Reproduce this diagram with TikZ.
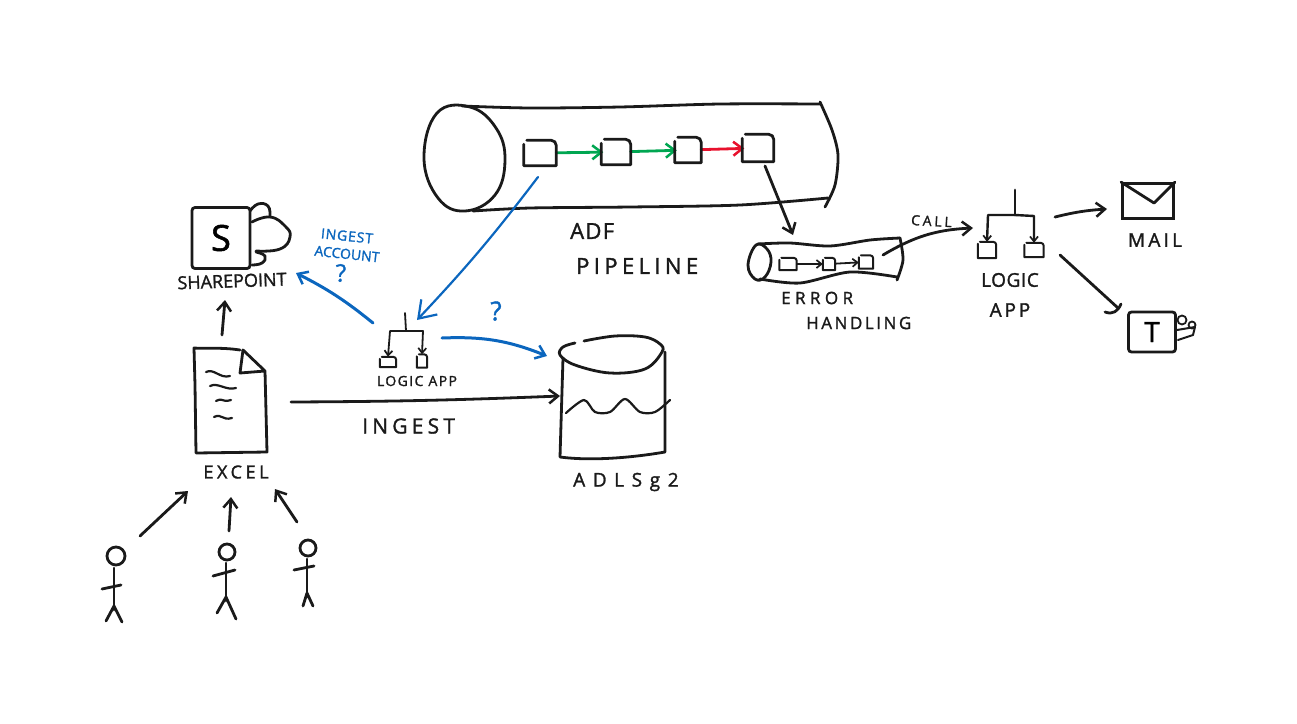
\documentclass[tikz,border=0pt]{standalone}
\usepackage{fontspec}
\setmainfont[FakeBold=1.5]{Open Sans}
\usepackage{xcolor}
\definecolor{ink}{HTML}{1A1A1A}
\definecolor{inkblue}{HTML}{0B66BE}
\definecolor{inkgreen}{HTML}{00A651}
\definecolor{inkred}{HTML}{E8112D}
\usetikzlibrary{arrows.meta,positioning}

\begin{document}
\begin{tikzpicture}[x=1pt,y=-1pt,
  sketch/.style={ink, line width=2.8pt, line cap=round, line join=round},
  arr/.style={sketch, -{Straight Barb[length=9pt,width=14pt,line width=2.5pt]}},
  smallarr/.style={sketch, line width=1.8pt, -{Straight Barb[length=5pt,width=8pt,line width=1.7pt]}},
  bluearr/.style={arr, inkblue},
  stepbox/.style={inner sep=0pt},
  iconbox/.style={draw=ink, line width=2.8pt, rounded corners=3pt, inner sep=0pt, font=\fontsize{36}{36}\selectfont},
  lab/.style 2 args={ink, inner sep=0pt, font=\fontsize{#1}{#1}\selectfont\addfontfeature{LetterSpace=#2}},
  bluelab/.style 2 args={lab={#1}{#2}, text=inkblue}
]
  \useasboundingbox (0,0) rectangle (1297,723);

  % adf pipeline
  \draw[sketch] plot[smooth cycle,tension=.7] coordinates {(437,113) (470,107) (496,128) (505,160) (495,195) (465,211) (438,198) (424,158)};
  \draw[sketch] plot[smooth,tension=.5] coordinates {(462,106) (530,108) (620,107) (720,104) (820,104)};
  \draw[sketch] plot[smooth,tension=.5] coordinates {(820,102) (832,130) (838,155) (835,185) (825,207)};
  \draw[sketch] plot[smooth,tension=.5] coordinates {(473,211) (530,208) (630,207) (740,205) (828,198)};
  \node[stepbox, minimum width=32pt, minimum height=25pt] (step1) at (540,153) {};
  \node[stepbox, minimum width=29pt, minimum height=25pt] (step2) at (616,152) {};
  \node[stepbox, minimum width=26pt, minimum height=25pt] (step3) at (688,150) {};
  \node[stepbox, minimum width=31pt, minimum height=27pt] (step4) at (758,148) {};
  \draw[arr, inkgreen, shorten >=-2pt] (step1) -- (step2);
  \draw[arr, inkgreen, shorten >=-2pt] (step2) -- (step3);
  \draw[arr, inkred, shorten >=-2pt] (step3) -- (step4);
  \node[lab={22}{6}, anchor=west] (adf) at (570,231) {ADF};
  \node[lab={22}{20}, anchor=west] (pipeline) at (576,266) {PIPELINE};

  % sharepoint
  \node[iconbox, minimum width=58pt, minimum height=61pt] (share) at (221,238) {S};
  \draw[sketch] plot[smooth,tension=.8] coordinates {(250,211) (258,204) (268,206) (270,216)};
  \draw[sketch] plot[smooth,tension=.8] coordinates {(252,222) (270,217) (285,226) (290,237) (280,249) (256,251)};
  \draw[sketch] plot[smooth,tension=.8] coordinates {(256,252) (265,256) (262,263) (252,265)};
  \node[lab={18}{0}, rotate=2] (sharelab) at (232,281) {SHAREPOINT};

  % excel
  \draw[sketch] (240,350) .. controls (220,347) and (205,349) .. (194,348) -- (195,385) -- (196,453) -- (267,452) -- (265,371) -- (243,350) -- (240,373) -- (265,371);
  \foreach \ya/\yb/\xa/\xb in {372/376/206/230, 386/388/210/236, 401/400/216/231, 417/418/214/232}
    \draw[sketch, line width=2.2pt] (\xa,\ya) .. controls ({\xa+8},{\ya-4}) and ({\xb-10},{\yb+3}) .. (\xb,\yb);
  \node[lab={18}{20}] (excellab) at (236,472) {EXCEL};
  \coordinate (excelup) at (222,335);
  \coordinate (shareup) at (225,300);
  \coordinate (excelout) at (291,402);
  \coordinate (lakein) at (560,396);
  \draw[arr] (excelup) -- (shareup);
  \draw[arr] (excelout) to[bend right=1] (lakein);
  \node[lab={21}{20}, anchor=west] (ingest) at (362,426) {INGEST};

  % lake
  \draw[sketch] plot[smooth,tension=.6] coordinates {(575,343) (563,347) (560,355) (575,365) (610,373) (645,369) (662,352) (660,344) (645,337) (615,336) (584,341)};
  \draw[sketch] (563,358) -- (560,457) .. controls (590,461) and (630,458) .. (665,452) -- (665,352);
  \draw[sketch, line width=2.2pt] plot[smooth,tension=.5] coordinates {(566,413) (584,400) (595,412) (610,412) (625,399) (640,412) (655,412) (670,400)};
  \node[lab={19}{40}, anchor=west] (lakelab) at (573,482) {ADLSg2};

  % logic app, blue
  \node[stepbox, minimum width=16pt, minimum height=10pt] (blueA) at (388,362) {};
  \node[stepbox, minimum width=10pt, minimum height=13pt] (blueB) at (422,361) {};
  \coordinate (blueTop) at (405,313);
  \coordinate (blueMid) at (406,331);
  \coordinate (blueL) at (390,331);
  \coordinate (blueR) at (423,331);
  \draw[sketch, line width=1.8pt] (blueTop) -- (blueMid);
  \draw[smallarr] (blueMid) -- (blueL) -- (blueA.north);
  \draw[smallarr] (blueMid) -- (blueR) -- (blueB.north);
  \node[lab={14}{10}] (bluelab) at (417,381) {LOGIC APP};
  \coordinate (blueFrom) at (538,177);
  \coordinate (blueTo) at (417,320);
  \coordinate (blueShareA) at (373,323);
  \coordinate (blueShareB) at (296,273);
  \coordinate (blueLakeA) at (442,338);
  \coordinate (blueLakeB) at (547,356);
  \draw[bluearr, line width=2.2pt, -{Straight Barb[length=16pt,width=22pt,line width=2.2pt]}] (blueFrom) to[bend left=3] (blueTo);
  \draw[bluearr, line width=3pt] (blueShareA) to[bend right=6] (blueShareB);
  \draw[bluearr, line width=3pt] (blueLakeA) to[bend left=12] (blueLakeB);
  \node[bluelab={14}{6}, rotate=-6] (acctA) at (347,236) {INGEST};
  \node[bluelab={14}{0}, rotate=-6] (acctB) at (347,254) {ACCOUNT};
  \node[bluelab={24}{0}] (acctC) at (341,273) {?};
  \node[bluelab={26}{0}] (blueQ) at (496,311) {?};

  % error handling
  \draw[sketch] plot[smooth cycle,tension=.7] coordinates {(756,245) (767,249) (771,262) (765,277) (755,279) (748,265)};
  \draw[sketch] plot[smooth,tension=.5] coordinates {(758,244) (790,243) (830,246) (870,240) (900,238)};
  \draw[sketch] plot[smooth,tension=.5] coordinates {(900,238) (903,260) (897,280)};
  \draw[sketch] plot[smooth,tension=.5] coordinates {(760,279) (800,283) (850,272) (897,277)};
  \node[stepbox, minimum width=17pt, minimum height=12pt] (errA) at (788,264) {};
  \node[stepbox, minimum width=12pt, minimum height=12pt] (errB) at (829,264) {};
  \node[stepbox, minimum width=14pt, minimum height=13pt] (errC) at (866,262) {};
  \draw[smallarr] (errA) -- (errB);
  \draw[smallarr] (errB) -- (errC);
  \coordinate (stepout) at (765,166);
  \coordinate (errin) at (793,235);
  \coordinate (errout) at (883,255);
  \coordinate (callin) at (973,228);
  \draw[arr] (stepout) -- (errin);
  \draw[arr] (errout) to[bend left=14] (callin);
  \node[lab={17}{26}, anchor=west] (errlab) at (781,298) {ERROR};
  \node[lab={17}{15}, anchor=west] (handlab) at (806,323) {HANDLING};
  \node[lab={14}{20}, rotate=-3, anchor=west] (calllab) at (911,220) {CALL};

  % logic app, black
  \node[stepbox, minimum width=18pt, minimum height=16pt] (logicA) at (987,250) {};
  \node[stepbox, minimum width=19pt, minimum height=14pt] (logicB) at (1034,250) {};
  \coordinate (logicTop) at (1015,190);
  \coordinate (logicMid) at (1015,215);
  \coordinate (logicL) at (988,215);
  \coordinate (logicR) at (1034,216);
  \draw[sketch] (logicTop) -- (logicMid);
  \draw[smallarr, line width=2.4pt] (logicMid) -- (logicL) -- (logicA.north);
  \draw[smallarr, line width=2.4pt] (logicMid) -- (logicR) -- (logicB.north);
  \node[lab={19}{3}] (logiclab) at (1010,280) {LOGIC};
  \node[lab={19}{15}] (applab) at (1010,310) {APP};
  \coordinate (mailfrom) at (1055,217);
  \coordinate (mailto) at (1107,209);
  \coordinate (teamsfrom) at (1060,255);
  \coordinate (teamsto) at (1118,308);
  \draw[arr] (mailfrom) to[bend left=5] (mailto);
  \draw[sketch] (teamsfrom) -- (teamsto);
  \draw[sketch] (1105,312) .. controls (1113,315) and (1118,311) .. (1121,304);

  % boxes with an open corner
  \foreach \b in {step1,step2,step3,step4}
    \draw[sketch] ([yshift=-4pt]\b.north west) -- (\b.south west) -- (\b.south east) [rounded corners=5pt] -- (\b.north east) -- ([xshift=3pt]\b.north west);
  \foreach \b in {blueA,blueB,errA,errB,errC,logicA,logicB}
    \draw[sketch, line width=2pt] ([yshift=-2pt]\b.north west) -- (\b.south west) -- (\b.south east) [rounded corners=3pt] -- (\b.north east) -- ([xshift=2pt]\b.north west);

  % mail and teams
  \node[iconbox, rounded corners=0pt, minimum width=51pt, minimum height=35pt] (mail) at (1148,201) {};
  \draw[sketch] (mail.north west) -- (1154,203) -- (mail.north east);
  \node[lab={19}{17}] (maillab) at (1155,240) {MAIL};
  \node[iconbox, minimum width=47pt, minimum height=40pt, font=\fontsize{28}{28}\selectfont] (teams) at (1152,332) {T};
  \draw[sketch, line width=1.8pt] (1182,320) circle[radius=4.5];
  \draw[sketch, line width=1.8pt] (1192,325) circle[radius=3.5];
  \draw[sketch, line width=2pt] (1177,330) -- (1195,327) -- (1193,335) -- (1178,340);

  % users
  \foreach \hx/\hy/\hr/\bx/\bb/\ax/\ay/\cx/\cy/\lx/\ly/\mx/\my in {116/556/9/114/610/102/589/121/585/106/621/122/622, 227/552/8/226/601/213/576/235/570/217/613/236/619, 308/548/8/307/597/294/570/314/566/303/606/313/606} {
    \draw[sketch] (\hx,\hy) circle[radius=\hr];
    \draw[sketch] (\bx,\hy+\hr+3) -- (\bx,\bb);
    \draw[sketch] (\ax,\ay) -- (\cx,\cy);
    \draw[sketch] (\lx,\ly) -- (\bx,\bb-4) -- (\mx,\my);
  }
  \coordinate (userA) at (140,536);
  \coordinate (userB) at (229,531);
  \coordinate (userC) at (297,522);
  \coordinate (excelA) at (188,491);
  \coordinate (excelB) at (231,497);
  \coordinate (excelC) at (275,489);
  \draw[arr] (userA) -- (excelA);
  \draw[arr] (userB) -- (excelB);
  \draw[arr] (userC) -- (excelC);
\end{tikzpicture}
\end{document}
